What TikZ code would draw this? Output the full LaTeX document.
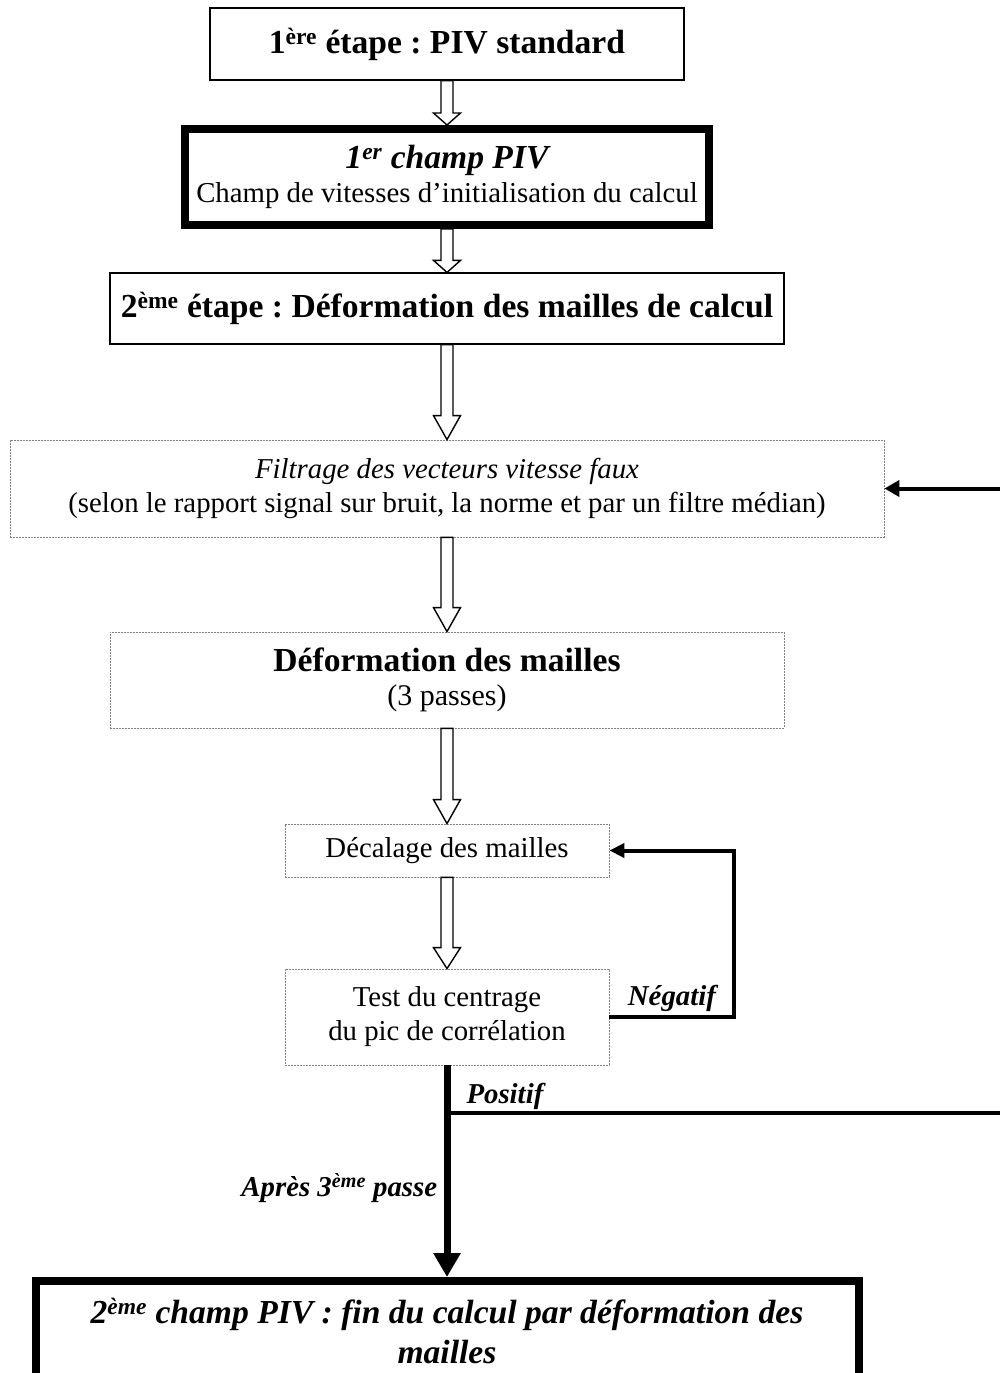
\documentclass[tikz,border=0pt]{standalone}
\usepackage{fontspec}
\setmainfont{Liberation Serif}
\usetikzlibrary{arrows.meta, positioning}
\frenchspacing

\newcommand{\fsbig}{\fontsize{33.6}{40}\selectfont}
\newcommand{\fsmid}{\fontsize{30}{37}\selectfont}
\newcommand{\fsnorm}{\fontsize{28.8}{34}\selectfont}

% hollow block arrow from the bottom of #2 to the top of #3, head length #1
\newcommand{\hollowarrow}[3][24pt]{%
  \draw[hollow] ([xshift=-6pt]#2.south) -- ([xshift=-6pt,yshift=#1]#3.north)
    -- ([xshift=-13.5pt,yshift=#1]#3.north) -- (#3.north)
    -- ([xshift=13.5pt,yshift=#1]#3.north) -- ([xshift=6pt,yshift=#1]#3.north)
    -- ([xshift=6pt]#2.south) -- cycle;}

\begin{document}
\begin{tikzpicture}[node distance=1.5cm, auto,
    stage/.style={rectangle, draw, line width=1.2pt, align=center, font=\fsbig\bfseries},
    field/.style={rectangle, draw, line width=8pt, align=center, font=\fsnorm},
    task/.style={rectangle, draw=gray, line width=0.8pt, dash pattern=on 2pt off 1pt, align=center, font=\fsnorm},
    hollow/.style={draw, line width=1.4pt, fill=white, line join=miter},
    lbl/.style={font=\fsnorm\bfseries\itshape},
    loopline/.style={line width=4pt, -{Triangle[length=15pt,width=14pt]}},
    mainline/.style={line width=7pt, -{Triangle[length=24pt,width=26pt]}},
    branch/.style={line width=4pt}]
    \useasboundingbox (0,0) rectangle (1000pt,-1373pt);
    \clip (0,0) rectangle (1000pt,-1373pt);

    \node [stage, minimum width=474pt, minimum height=72pt] (piv1) at (447pt,-44pt) {1\textsuperscript{ère} étape : PIV standard};
    \node [field, below of=piv1, node distance=133pt, minimum width=524pt, minimum height=96pt] (champ1)
        {{\fsbig\bfseries\itshape 1\textsuperscript{er} champ PIV}\\Champ de vitesses d’initialisation du calcul};
    \node [stage, below of=champ1, node distance=131.5pt, minimum width=674pt, minimum height=71pt] (piv2)
        {2\textsuperscript{ème} étape : Déformation des mailles de calcul};
    \node [task, below of=piv2, node distance=180pt, minimum width=874pt, minimum height=97pt] (filtre)
        {\textit{Filtrage des vecteurs vitesse faux}\\(selon le rapport signal sur bruit, la norme et par un filtre médian)};
    \node [task, below of=filtre, node distance=191.5pt, minimum width=674pt, minimum height=96pt] (deform)
        {{\fsbig\bfseries Déformation des mailles}\\{\fsmid (3 passes)}};
    \node [task, below of=deform, node distance=170.5pt, minimum width=324pt, minimum height=53pt] (decal)
        {Décalage des mailles};
    \node [task, below of=decal, node distance=166.5pt, minimum width=324pt, minimum height=96pt] (test)
        {Test du centrage\\du pic de corrélation};
    \node [field, below of=test, node distance=314pt, minimum width=823pt, minimum height=100pt, font=\fsbig\bfseries\itshape] (champ2)
        {2\textsuperscript{ème} champ PIV : fin du calcul par déformation des\\mailles};

    \hollowarrow[12pt]{piv1}{champ1}
    \hollowarrow[12pt]{champ1}{piv2}
    \hollowarrow{piv2}{filtre}
    \hollowarrow{filtre}{deform}
    \hollowarrow{deform}{decal}
    \hollowarrow[21pt]{decal}{test}

    \draw [loopline] (test.east) -- node [lbl, above] {Négatif} ++(125pt,0) |- (decal.east);
    \draw [mainline] (test.south) -- node [lbl, left, pos=0.58, xshift=-3pt] {Après 3\textsuperscript{ème} passe} (champ2.north);

    \coordinate [below=48pt of test.south] (split);
    \coordinate [right=560pt of split] (exitR);
    \draw [branch] (split) -- (exitR);
    \node [lbl, above right=0pt and 16pt of split] (positif) {Positif};

    \coordinate [right=126pt of filtre.east] (entryR);
    \draw [branch, -{Triangle[length=15pt,width=16pt]}] (entryR) -- (filtre.east);
\end{tikzpicture}
\end{document}
